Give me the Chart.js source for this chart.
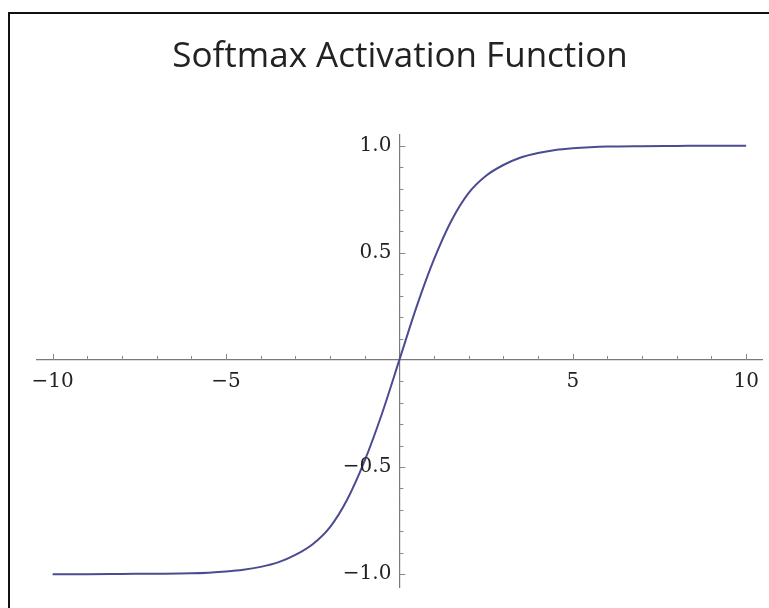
<!DOCTYPE html>
<html>
<head>
<meta charset="utf-8">
<script src="https://cdn.jsdelivr.net/npm/chart.js"></script>
<style>
  html, body { margin: 0; padding: 0; background: #fff; }
  #wrap { position: relative; width: 769px; height: 608px; }
  #frame {
    position: absolute; left: 8px; top: 12px; right: 0; bottom: 0;
    border-left: 2px solid #111; border-top: 2px solid #111;
    pointer-events: none;
  }
</style>
</head>
<body>
<div id="wrap">
  <canvas id="myChart" width="769" height="608"></canvas>
  <div id="frame"></div>
</div>
<script>
// curve
const xs = [-10, -9, -8, -7, -6, -5.5, -5, -4.5, -4, -3.5, -3, -2.5, -2, -1.5, -1, -0.5,
  0, 0.5, 1, 1.5, 2, 2.5, 3, 3.5, 4, 4.5, 5, 5.5, 6, 7, 8, 9, 10];
const ys = [-1, -1, -0.999, -0.998, -0.996, -0.993, -0.988, -0.98, -0.966, -0.945, -0.91, -0.86, -0.78, -0.65, -0.47, -0.25,
  0, 0.25, 0.47, 0.65, 0.78, 0.86, 0.91, 0.945, 0.966, 0.98, 0.988, 0.993, 0.996, 0.998, 0.999, 1, 1];

// axis ticks
const xLabels = [-10, -5, 5, 10];
const yLabels = [-1, -0.5, 0.5, 1];
const xMinor = [-10, -9, -8, -7, -6, -5, -4, -3, -2, -1, 1, 2, 3, 4, 5, 6, 7, 8, 9, 10];
const yMinor = [-1, -0.9, -0.8, -0.7, -0.6, -0.5, -0.4, -0.3, -0.2, -0.1,
  0.1, 0.2, 0.3, 0.4, 0.5, 0.6, 0.7, 0.8, 0.9, 1];

const minus = v => (v < 0 ? '\u2212' : '');
const yFmt = v => minus(v) + Math.abs(v).toFixed(1);

// mathematica style tick marks on the inside of the axes,
// plus the y labels (chart.js puts them flush on a centred axis, no gap)
const tickMarks = {
  id: 'tickMarks',
  afterDatasetsDraw(chart) {
    const {ctx, scales: {x, y}} = chart;
    const x0 = x.getPixelForValue(0);
    const y0 = y.getPixelForValue(0);
    ctx.save();
    ctx.strokeStyle = '#8a8a8a';
    ctx.lineWidth = 1;
    ctx.beginPath();
    xMinor.forEach(v => {
      const px = Math.round(x.getPixelForValue(v)) + 0.5;
      const len = v % 5 === 0 ? 6 : 4;
      ctx.moveTo(px, y0);
      ctx.lineTo(px, y0 - len);
    });
    yMinor.forEach(v => {
      const py = Math.round(y.getPixelForValue(v)) + 0.5;
      const len = Math.abs(v * 10) % 5 === 0 ? 6 : 4;
      ctx.moveTo(x0, py);
      ctx.lineTo(x0 + len, py);
    });
    ctx.stroke();

    ctx.fillStyle = '#222';
    ctx.font = '20px "DejaVu Serif"';
    ctx.textAlign = 'right';
    ctx.textBaseline = 'middle';
    yLabels.forEach(v => {
      ctx.fillText(yFmt(v), x0 - 8, y.getPixelForValue(v));
    });
    ctx.restore();
  },
};

new Chart(document.getElementById('myChart'), {
  type: 'line',
  data: {
    datasets: [
      {
        data: xs.map((v, i) => ({x: v, y: ys[i]})),
        borderColor: '#4b4b92',
        borderWidth: 2,
        pointRadius: 0,
        cubicInterpolationMode: 'monotone',
        fill: false,
      },
    ],
  },
  options: {
    responsive: false,
    animation: false,
    layout: {
      padding: {left: 37, right: 6, top: 0, bottom: 21},
    },
    plugins: {
      legend: {display: false},
      tooltip: {enabled: false},
      title: {
        display: true,
        text: 'Softmax Activation Function',
        color: '#222',
        font: {family: 'Open Sans', size: 35, weight: 'normal'},
        padding: {top: 36, bottom: 57},
      },
    },
    scales: {
      x: {
        type: 'linear',
        position: {y: 0},
        min: -10.45,
        max: 10.47,
        grid: {display: false, drawTicks: false},
        border: {display: true, color: '#7a7a7a', width: 1.2},
        afterBuildTicks: scale => { scale.ticks = xLabels.map(v => ({value: v})); },
        ticks: {
          autoSkip: false,
          maxRotation: 0,
          padding: 10,
          color: '#222',
          font: {family: 'DejaVu Serif', size: 20},
          callback: v => minus(v) + Math.abs(v),
        },
      },
      y: {
        type: 'linear',
        position: {x: 0},
        min: -1.06,
        max: 1.05,
        grid: {display: false, drawTicks: false},
        border: {display: true, color: '#7a7a7a', width: 1.2},
        afterBuildTicks: scale => { scale.ticks = yLabels.map(v => ({value: v})); },
        ticks: {
          display: false,
          padding: 8,
          font: {family: 'DejaVu Serif', size: 20},
        },
      },
    },
  },
  plugins: [tickMarks],
});
</script>
</body>
</html>
